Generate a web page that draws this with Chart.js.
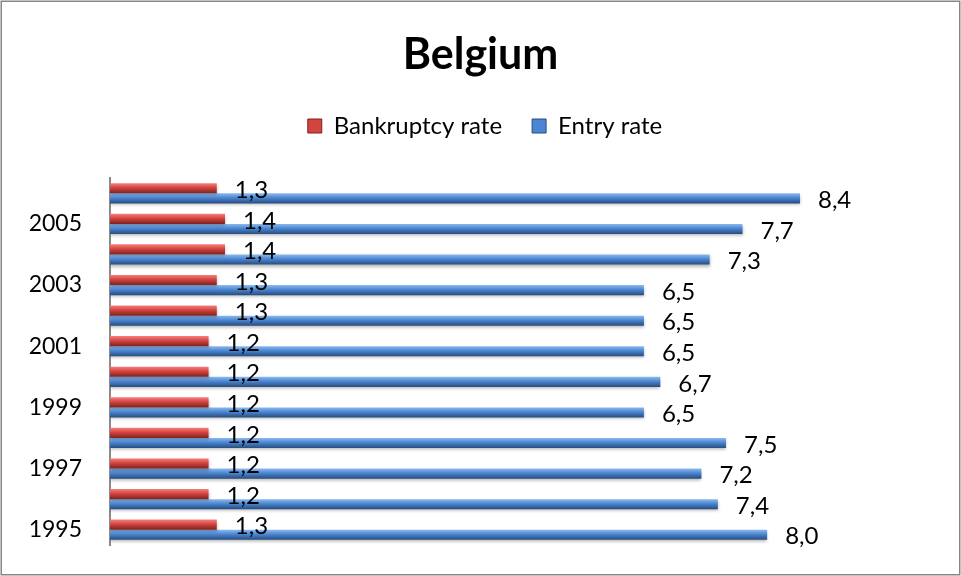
<!DOCTYPE html>
<html>
<head>
<meta charset="utf-8">
<script src="https://cdn.jsdelivr.net/npm/chart.js@4"></script>
<style>
  body { margin: 0; background: #fff; }
</style>
</head>
<body>
<canvas id="chart" width="961" height="576"></canvas>
<script>
var years = ['1995', '1996', '1997', '1998', '1999', '2000', '2001', '2002', '2003', '2004', '2005', '2006'];
var bankruptcy = [1.3, 1.2, 1.2, 1.2, 1.2, 1.2, 1.2, 1.3, 1.3, 1.4, 1.4, 1.3];
var entry = [8.0, 7.4, 7.2, 7.5, 6.5, 6.7, 6.5, 6.5, 6.5, 7.3, 7.7, 8.4];
var seriesNames = ['Bankruptcy rate', 'Entry rate'];

var FONT = 'Lato, "Noto Sans", sans-serif';
var CAT_PCT = 0.66;
var shades = [
    ['#f4807c', '#d4443f', '#7c2220'],   // red
    ['#8dbaf0', '#4a86d2', '#284c7e']    // blue
];

// shaded 3d-ish fill, worked out from the scale so every bar gets its own gradient
function barFill(k) {
    return function (ctx) {
        var chart = ctx.chart;
        var ys = chart.scales.y;
        if (!chart.chartArea || !ys || ctx.type !== 'data') return shades[k][1];
        var band = ys.height / years.length;
        var h = band * CAT_PCT / 2;
        var c = ys.getPixelForValue(ctx.dataIndex);
        var top = c - h + k * h;
        var g = chart.ctx.createLinearGradient(0, top, 0, top + h);
        g.addColorStop(0, shades[k][0]);
        g.addColorStop(0.45, shades[k][1]);
        g.addColorStop(1, shades[k][2]);
        return g;
    };
}

var extras = {
    id: 'extras',
    beforeInit: function (chart) {
        var fit = chart.legend.fit;
        chart.legend.fit = function () {
            fit.bind(chart.legend)();
            this.height += 30;
            if (this.lineWidths) this.lineWidths[0] -= 9;   // nudge legend a bit right
        };
    },
    beforeDatasetsDraw: function (chart) {
        var c = chart.ctx;
        c.save();
        c.shadowColor = 'rgba(0,0,0,0.28)';
        c.shadowOffsetY = 2;
        c.shadowBlur = 3;
    },
    afterDatasetsDraw: function (chart) {
        var c = chart.ctx;
        c.restore();
        c.save();
        c.font = '24px ' + FONT;
        c.fillStyle = '#000';
        c.textAlign = 'left';
        c.textBaseline = 'middle';
        chart.data.datasets.forEach(function (ds, i) {
            chart.getDatasetMeta(i).data.forEach(function (bar, j) {
                c.fillText(ds.data[j].toFixed(1).replace('.', ','), bar.x + 18, bar.y + 2);
            });
        });
        c.restore();
    },
    afterDraw: function (chart) {
        var c = chart.ctx;
        c.save();
        c.strokeStyle = '#868686';
        c.lineWidth = 1.5;
        c.strokeRect(1.25, 1.25, 958.5, 573.5);
        c.restore();
    }
};

new Chart(document.getElementById('chart'), {
    type: 'bar',
    data: {
        labels: years,
        datasets: [{
            label: seriesNames[0],
            data: bankruptcy,
            backgroundColor: barFill(0)
        }, {
            label: seriesNames[1],
            data: entry,
            backgroundColor: barFill(1)
        }]
    },
    options: {
        indexAxis: 'y',
        responsive: false,
        animation: false,
        categoryPercentage: CAT_PCT,
        barPercentage: 1,
        layout: { padding: { left: 0, right: 0, bottom: 31, top: 0 } },
        plugins: {
            title: {
                display: true,
                text: 'Belgium',
                color: '#000',
                font: { family: FONT, size: 43, weight: 'bold' },
                padding: { top: 29, bottom: 3.4 }
            },
            legend: {
                display: true,
                labels: {
                    color: '#000',
                    font: { family: FONT, size: 24 },
                    boxWidth: 14,
                    boxHeight: 14,
                    padding: 30,
                    generateLabels: function (chart) {
                        return chart.data.datasets.map(function (ds, i) {
                            return {
                                text: ds.label,
                                fillStyle: shades[i][1],
                                strokeStyle: shades[i][2],
                                lineWidth: 1,
                                datasetIndex: i,
                                hidden: false
                            };
                        });
                    }
                }
            },
            tooltip: { enabled: false }
        },
        scales: {
            x: { display: false, min: 0, max: 10.36 },
            y: {
                reverse: true,
                grid: { display: false, drawTicks: false },
                border: { display: true, color: '#8a8a8a', width: 2 },
                afterFit: function (s) {
                    s.width = 110;
                    s.paddingTop = 0;
                    s.paddingBottom = 0;
                },
                ticks: {
                    autoSkip: false,
                    padding: 28,
                    color: '#000',
                    font: { family: FONT, size: 23 },
                    callback: function (v, i) { return i % 2 === 0 ? years[i] : ''; }
                }
            }
        }
    },
    plugins: [extras]
});
</script>
</body>
</html>
